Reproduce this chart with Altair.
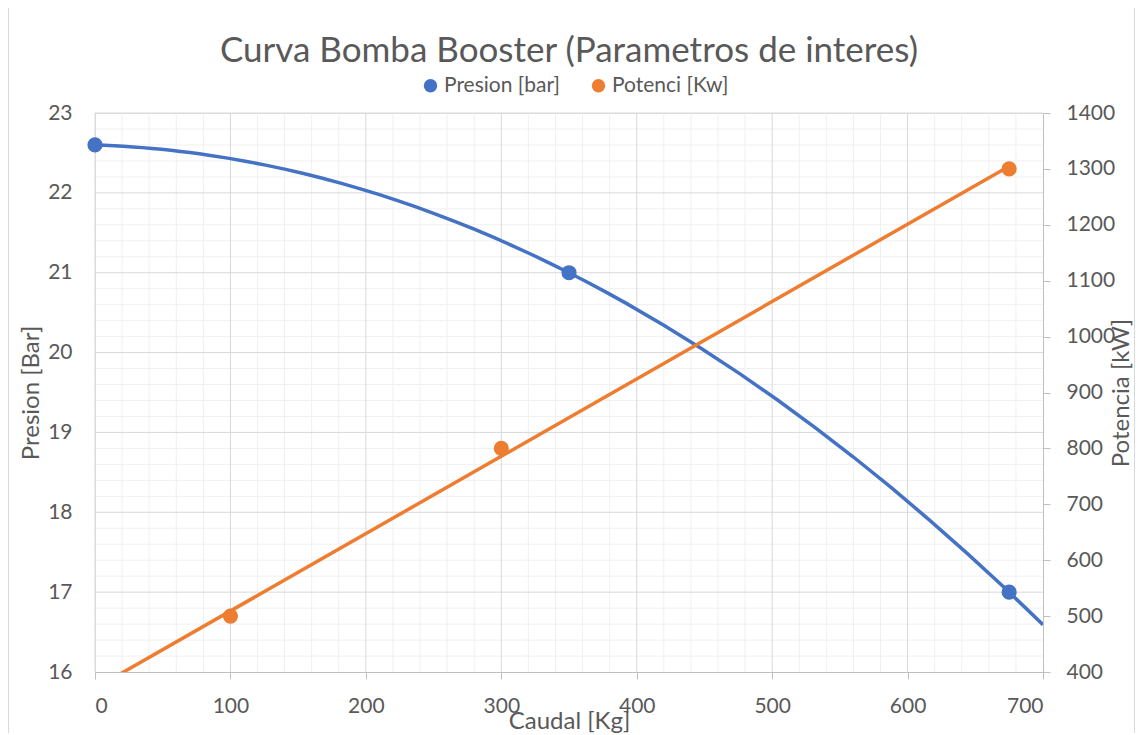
import altair as alt
import pandas as pd
import numpy as np

# ---- data ----
presion_caudal = [0, 350, 675]
presion_bar = [22.6, 21.0, 17.0]
potencia_caudal = [100, 300, 675]
potencia_kw = [500, 800, 1300]

series_names = ["Presion [bar]", "Potenci [Kw]"]
series_colors = ["#4472C4", "#ED7D31"]

x_ticks = list(range(0, 701, 100))
y_left_ticks = list(range(16, 24))
y_right_ticks = list(range(400, 1401, 100))

x_minor = [v for v in range(0, 701, 20) if v % 100 != 0]
y_minor = [round(16 + 0.2 * i, 1) for i in range(36) if i % 5 != 0]

W, H = 948, 559
FONT = "Lato"
GRAY = "#595959"
LBL = 21
TTL = 24

df_p = pd.DataFrame({"x": presion_caudal, "y": presion_bar, "serie": series_names[0]})
df_k = pd.DataFrame({"x": potencia_caudal, "y": potencia_kw, "serie": series_names[1]})

x_scale = alt.Scale(domain=[0, 700], nice=False, zero=False)
x_enc = alt.X(
    "x:Q",
    scale=x_scale,
    axis=alt.Axis(
        values=x_ticks, grid=False, domainColor="#bfbfbf", tickColor="#bfbfbf",
        tickSize=7, labelFontSize=LBL, labelColor=GRAY, labelFont=FONT, labelPadding=16,
        format="d",
        title="Caudal [Kg]", titleFont=FONT, titleFontSize=TTL, titleFontWeight="normal",
        titleColor=GRAY, titlePadding=-7,
    ),
)

yl_scale = alt.Scale(domain=[16, 23], nice=False, zero=False)
yl_axis = alt.Axis(
    values=y_left_ticks, grid=False, domain=False, ticks=False, labelFontSize=LBL,
    labelColor=GRAY, labelFont=FONT, labelPadding=23, format="d", title="Presion [Bar]",
    titleFont=FONT, titleFontSize=TTL, titleFontWeight="normal", titleColor=GRAY,
    titlePadding=4, orient="left",
)
yr_scale = alt.Scale(domain=[400, 1400], nice=False, zero=False)
yr_axis = alt.Axis(
    values=y_right_ticks, grid=False, domain=True, domainColor="#bfbfbf",
    tickColor="#bfbfbf", tickSize=7, labelFontSize=LBL, labelColor=GRAY, labelFont=FONT,
    labelPadding=16, format="d", title="Potencia [kW]", titleFont=FONT, titleFontSize=TTL,
    titleFontWeight="normal", titleColor=GRAY, titlePadding=19, titleAngle=270,
    orient="right",
)

color_enc = alt.Color(
    "serie:N",
    scale=alt.Scale(domain=series_names, range=series_colors),
    legend=alt.Legend(
        orient="none", legendX=325, legendY=-38, direction="horizontal", title=None,
        symbolType="circle", symbolSize=180, symbolStrokeWidth=0, labelFontSize=21,
        labelFont=FONT, labelColor=GRAY, columnPadding=28, labelOffset=3,
    ),
)

# grid rules
minor_v = alt.Chart(pd.DataFrame({"x": x_minor})).mark_rule(color="#f0f0f0", strokeWidth=1).encode(x=x_enc)
minor_h = alt.Chart(pd.DataFrame({"y": y_minor})).mark_rule(color="#f0f0f0", strokeWidth=1).encode(
    y=alt.Y("y:Q", scale=yl_scale, axis=yl_axis))
major_v = alt.Chart(pd.DataFrame({"x": x_ticks[:-1]})).mark_rule(color="#d9d9d9", strokeWidth=1).encode(x=x_enc)
major_h = alt.Chart(pd.DataFrame({"y": y_left_ticks[1:]})).mark_rule(color="#d9d9d9", strokeWidth=1).encode(
    y=alt.Y("y:Q", scale=yl_scale, axis=yl_axis))

blue_line = alt.Chart(df_p).transform_regression(
    "x", "y", method="poly", order=2, extent=[0, 700]
).mark_line(color=series_colors[0], strokeWidth=3.5, clip=True).encode(
    x=x_enc, y=alt.Y("y:Q", scale=yl_scale, axis=yl_axis))
blue_pts = alt.Chart(df_p).mark_point(filled=True, opacity=1, size=230, clip=False).encode(
    x=x_enc, y=alt.Y("y:Q", scale=yl_scale, axis=yl_axis), color=color_enc)

orange_line = alt.Chart(df_k).transform_regression(
    "x", "y", method="linear", extent=[0, 675]
).mark_line(color=series_colors[1], strokeWidth=3.5, clip=True).encode(
    x=x_enc, y=alt.Y("y:Q", scale=yr_scale, axis=yr_axis))
orange_pts = alt.Chart(df_k).mark_point(filled=True, opacity=1, size=230).encode(
    x=x_enc, y=alt.Y("y:Q", scale=yr_scale, axis=yr_axis), color=color_enc)

border = alt.Chart(pd.DataFrame({"a": [0]})).mark_rect(
    fill=None, stroke="#d9d9d9", strokeWidth=1, clip=False
).encode(x=alt.value(-86.5), x2=alt.value(W + 91.5), y=alt.value(-107.5), y2=alt.value(H + 80))

left = alt.layer(minor_v, minor_h, major_v, major_h, blue_line, blue_pts)
right = alt.layer(orange_line, orange_pts)

chart = alt.layer(left, right, border).resolve_scale(y="independent").properties(
    width=W, height=H,
    autosize=alt.AutoSizeParams(type="none"),
    padding={"left": 87, "top": 105, "right": 92, "bottom": 61},
    title=alt.TitleParams(
        "Curva Bomba Booster (Parametros de interes)", font=FONT, fontSize=35,
        fontWeight="normal", color=GRAY, anchor="middle", offset=0, dy=64,
    ),
).configure_view(stroke=None).configure(background="white")

chart.save("out.html", embed_options={"renderer": "svg", "actions": False})
